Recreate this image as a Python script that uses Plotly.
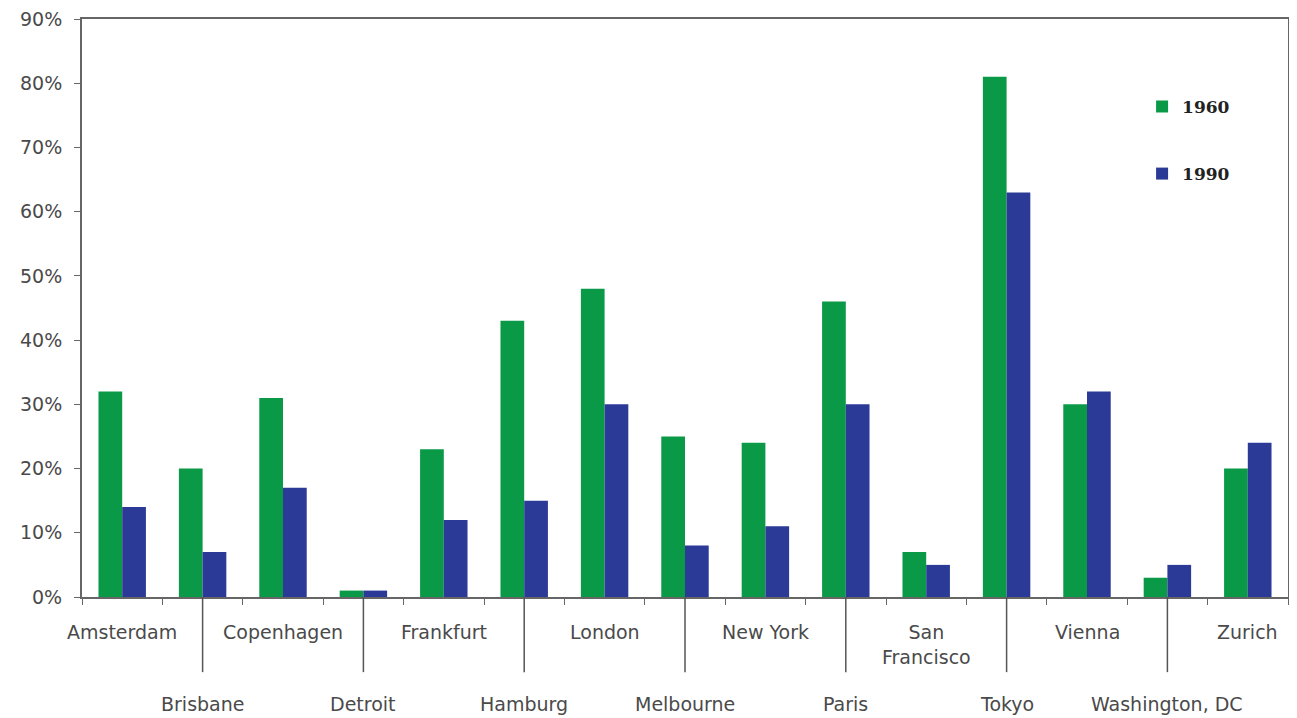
import plotly.graph_objects as go

cities = ["Amsterdam", "Brisbane", "Copenhagen", "Detroit", "Frankfurt", "Hamburg",
          "London", "Melbourne", "New York", "Paris", "San Francisco", "Tokyo",
          "Vienna", "Washington, DC", "Zurich"]
city_labels = ["Amsterdam", "Brisbane", "Copenhagen", "Detroit", "Frankfurt", "Hamburg",
               "London", "Melbourne", "New York", "Paris", "San<br>Francisco", "Tokyo",
               "Vienna", "Washington, DC", "Zurich"]
v1960 = [32, 20, 31, 1, 23, 43, 48, 25, 24, 46, 7, 81, 30, 3, 20]
v1990 = [14, 7, 17, 1, 12, 15, 30, 8, 11, 30, 5, 63, 32, 5, 24]
y_ticks = [0, 10, 20, 30, 40, 50, 60, 70, 80, 90]

GREEN = "#0a9a47"
BLUE = "#2b3a96"
FONT = "DejaVu Sans"
TXT = "#4a4a4a"

fig = go.Figure()
fig.add_trace(go.Bar(x=cities, y=[v / 100 for v in v1960], name="1960",
                     marker=dict(color=GREEN, line=dict(width=0)), legendgroup="a"))
fig.add_trace(go.Bar(x=cities, y=[v / 100 for v in v1990], name="1990",
                     marker=dict(color=BLUE, line=dict(width=0)), legendgroup="b"))

annotations = []
shapes = []
for i, (c, lab) in enumerate(zip(cities, city_labels)):
    if i % 2 == 0:
        annotations.append(dict(x=c, xref="x", y=-0.038, yref="paper", text=lab,
                                showarrow=False, yanchor="top", xanchor="center",
                                font=dict(family=FONT, size=19, color=TXT)))
    else:
        annotations.append(dict(x=c, xref="x", y=-0.185, yref="paper", text=lab,
                                showarrow=False, yanchor="middle", xanchor="center",
                                font=dict(family=FONT, size=19, color=TXT)))
        shapes.append(dict(type="line", xref="x", yref="paper", x0=c, x1=c,
                           y0=0, y1=-0.13, line=dict(color="#555555", width=1.5)))

fig.update_layout(
    width=1289, height=710,
    margin=dict(l=74, r=9, t=11, b=121, autoexpand=False),
    plot_bgcolor="white", paper_bgcolor="white",
    barmode="group", bargap=0.41, bargroupgap=0,
    font=dict(family=FONT, size=19, color=TXT),
    showlegend=True,
    legend=dict(x=0.879, y=0.879, xanchor="left", yanchor="top",
                font=dict(family="DejaVu Serif", size=17, color="#222222", weight="bold"),
                tracegroupgap=42, bgcolor="rgba(0,0,0,0)", itemwidth=30),
    annotations=annotations,
    shapes=shapes,
)
fig.update_xaxes(showticklabels=False, showline=True, linecolor="#666666", linewidth=2,
                 mirror=True, ticks="outside", tickson="boundaries", ticklen=6,
                 tickcolor="#666666", showgrid=False, automargin=False,
                 range=[-0.5, len(cities) - 0.5], autorange=False)
fig.update_yaxes(range=[0, 0.9], tickvals=[t / 100 for t in y_ticks],
                 ticktext=[f"{t}%" for t in y_ticks],
                 showline=True, linecolor="#666666", linewidth=2, mirror=True,
                 ticks="outside", ticklen=6, tickcolor="#666666", showgrid=False,
                 zeroline=False, ticklabelstandoff=8, automargin=False,
                 ticklabeloverflow="allow",
                 tickfont=dict(family=FONT, size=19, color=TXT))

fig.write_html("out.html")
